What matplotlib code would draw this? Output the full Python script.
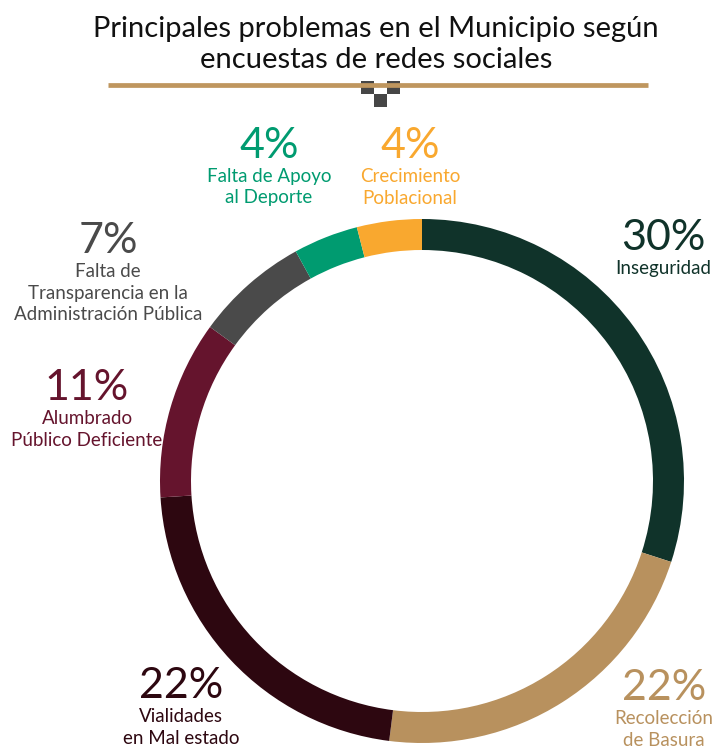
import matplotlib
matplotlib.use("Agg")
import matplotlib.pyplot as plt
from matplotlib.patches import Rectangle

# datos de la encuesta
categorias = ["Inseguridad", "Recolección\nde Basura", "Vialidades\nen Mal estado",
              "Alumbrado\nPúblico Deficiente",
              "Falta de\nTransparencia en la\nAdministración Pública",
              "Falta de Apoyo\nal Deporte", "Crecimiento\nPoblacional"]
porcentajes = [30, 22, 22, 11, 7, 4, 4]
colores = ["#10332a", "#b8915e", "#2d0710", "#65142d", "#4a4a4a", "#009b70", "#f9a82f"]

# posición de cada etiqueta (centro x, línea base del porcentaje en píxeles)
pos_etiquetas = [(663, 250), (664, 700), (181, 698), (87, 400), (108, 253), (269, 158), (410, 158)]

FUENTE = ["Lato", "DejaVu Sans"]

W, H = 713, 749
fig = plt.figure(figsize=(W / 100, H / 100), dpi=100)
ax = fig.add_axes([0, 0, 1, 1])

# anillo (eje y invertido: el sentido visual es horario)
ax.pie(porcentajes, colors=colores, radius=262, center=(422, 481),
       startangle=-90, counterclock=True,
       wedgeprops=dict(width=31, linewidth=0))
ax.set_xlim(0, W)
ax.set_ylim(H, 0)
ax.set_aspect("equal")
ax.axis("off")

# título
ax.text(376, 37, "Principales problemas en el Municipio según", ha="center", va="baseline",
        fontsize=21, color="#111111", family=FUENTE)
ax.text(376, 68, "encuestas de redes sociales", ha="center", va="baseline",
        fontsize=21, color="#111111", family=FUENTE)

# línea decorativa y cuadros
ax.plot([108, 648], [84.5, 84.5], color="#bf965e", lw=3.4, solid_capstyle="butt")
for x0, y0 in [(361, 81), (387, 81), (374, 94)]:
    ax.add_patch(Rectangle((x0, y0), 12.5, 12.5, color="#464646", lw=0))

# etiquetas
for cat, val, col, (x, yb) in zip(categorias, porcentajes, colores, pos_etiquetas):
    ax.text(x, yb, "%d%%" % val, ha="center", va="baseline", fontsize=31,
            color=col, family=FUENTE)
    for i, linea in enumerate(cat.split("\n")):
        ax.text(x, yb + 24 + 21.5 * i, linea, ha="center", va="baseline", fontsize=13.5,
                color=col, family=FUENTE)

fig.savefig("out.png", dpi=100)
